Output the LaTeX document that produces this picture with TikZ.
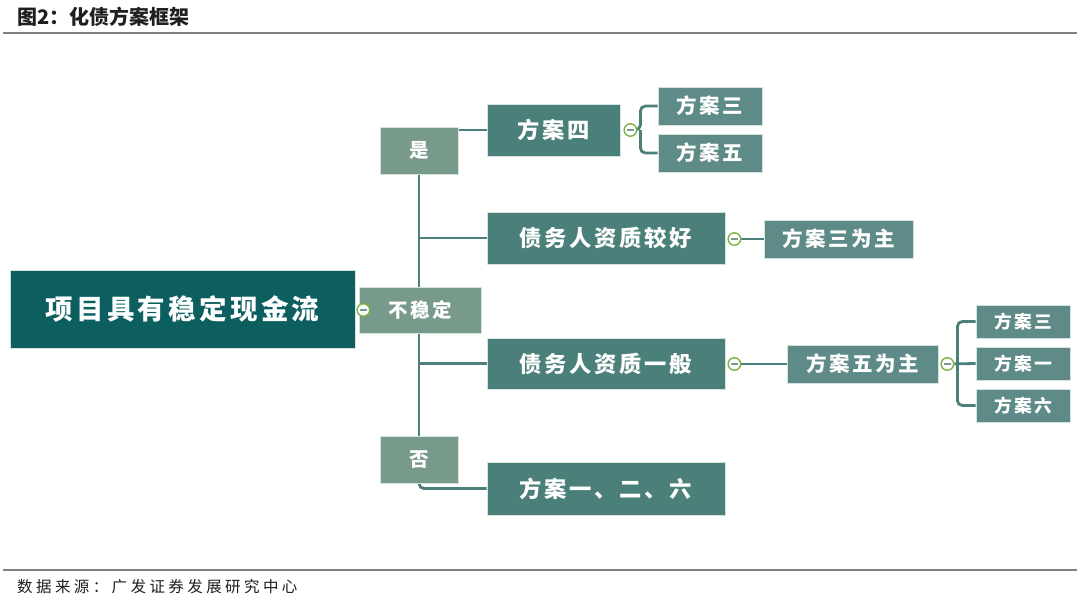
\documentclass[tikz,border=0pt]{standalone}
\usepackage{fontspec}
\usetikzlibrary{backgrounds,calc}
\newfontfamily\cjk{Noto Sans CJK SC}
\newfontfamily\cjks{Noto Sans CJK SC}[LetterSpace=12]
\newfontfamily\cjkw{Noto Sans CJK SC}[LetterSpace=22]
\definecolor{cmain}{HTML}{0C5E5F}
\definecolor{cgray}{HTML}{779A8B}
\definecolor{cteal}{HTML}{4A8079}
\definecolor{csmall}{HTML}{5E8B88}
\definecolor{cline}{HTML}{4A8079}
\definecolor{cgreen}{HTML}{79B343}
\definecolor{cedge}{HTML}{D5E3DF}
\definecolor{crule}{HTML}{808080}
\definecolor{ctitle}{HTML}{1F1F1F}
\tikzset{
  box/.style={draw=cedge, line width=0.8pt, text=white, inner sep=0pt, align=center},
  mainbox/.style={box, fill=cmain, font=\cjks\bfseries\fontsize{27.5}{30}\selectfont},
  graybox/.style={box, fill=cgray, font=\cjks\bfseries\fontsize{19.5}{22}\selectfont},
  bigbox/.style={box, fill=cteal, font=\cjks\bfseries\fontsize{22.3}{24}\selectfont},
  midbox/.style={box, fill=csmall, font=\cjks\bfseries\fontsize{20.5}{22}\selectfont},
  smallbox/.style={box, fill=csmall, font=\cjks\bfseries\fontsize{17.8}{20}\selectfont},
  conn/.style={draw=cline, line width=2.8pt, rounded corners=5pt},
  toggle/.style={circle, draw=cgreen, fill=white, line width=1.4pt, inner sep=0pt, minimum size=12.5pt,
    path picture={\draw[cgray, line width=1.6pt] ([xshift=-3.6pt]path picture bounding box.center) -- ([xshift=3.6pt]path picture bounding box.center);}},
}
\begin{document}
\begin{tikzpicture}[x=1pt,y=-1pt]
\useasboundingbox (0,0) rectangle (1080,603);
% title and rules
\node[anchor=west, text=ctitle, font=\cjk\bfseries\fontsize{20}{22}\selectfont, inner sep=0pt] (title) at (17,17) {图2：化债方案框架};
\coordinate (r1a) at (3,33);
\coordinate (r1b) at (1077,33);
\draw[crule, line width=1.5pt] (r1a) -- (r1b);
\coordinate (r2a) at (3,570);
\coordinate (r2b) at (1077,570);
\draw[crule, line width=1.5pt] (r2a) -- (r2b);
\node[anchor=west, text=ctitle, font=\cjkw\fontsize{15.5}{18}\selectfont, inner sep=0pt] (src) at (17,587) {数据来源：广发证券发展研究中心};

% nodes
\node[mainbox, minimum width=345pt, minimum height=78pt] (main) at (182.5,309) {项目具有稳定现金流};
\node[graybox, minimum width=122pt, minimum height=46pt] (bw) at (420,310) {不稳定};
\node[graybox, minimum width=78pt, minimum height=47pt] (shi) at (419,150.5) {是};
\node[graybox, minimum width=78pt, minimum height=47pt] (fou) at (419,459.5) {否};
\node[bigbox, minimum width=133pt, minimum height=52pt] (f4) at (553.5,130) {方案四};
\node[midbox, minimum width=104pt, minimum height=38pt] (f3a) at (710,106) {方案三};
\node[midbox, minimum width=104pt, minimum height=38pt] (f5a) at (710,153) {方案五};
\node[bigbox, minimum width=238pt, minimum height=52pt] (good) at (606,238) {债务人资质较好};
\node[midbox, minimum width=149pt, minimum height=38pt] (f3main) at (838.5,239) {方案三为主};
\node[bigbox, minimum width=238pt, minimum height=51pt] (avg) at (606,363.5) {债务人资质一般};
\node[midbox, minimum width=151pt, minimum height=38pt] (f5main) at (862.5,364) {方案五为主};
\node[smallbox, minimum width=94pt, minimum height=33pt] (r3) at (1023,321.5) {方案三};
\node[smallbox, minimum width=94pt, minimum height=33pt] (r1) at (1023,363.5) {方案一};
\node[smallbox, minimum width=94pt, minimum height=33pt] (r6) at (1023,405.5) {方案六};
\node[bigbox, minimum width=238pt, minimum height=53pt] (f126) at (606,488.5) {方案一、二、六};

% toggles
\node[toggle] (c0) at ($(main.east)+(8,1)$) {};
\node[toggle] (c1) at ($(f4.east)+(10,0)$) {};
\node[toggle] (c2) at ($(good.east)+(9,1)$) {};
\node[toggle] (c3) at ($(avg.east)+(9,0.5)$) {};
\node[toggle] (c4) at ($(f5main.east)+(9,0)$) {};
\coordinate (j1) at ($(f4.east)+(20,0)$);
\coordinate (j2) at ($(f5main.east)+(19,0)$);

% connectors
\begin{scope}[on background layer]
\draw[conn] (shi.south) -- (fou.north);
\draw[conn] (shi.south |- good.west) -- (good.west);
\draw[conn] (shi.south |- avg.west) -- (avg.west);
\draw[conn] (shi.east |- f4.west) -- (f4.west);
\draw[conn] (fou.south) |- (f126.west);
\draw[conn] (c1) -- (j1) |- (f3a.west);
\draw[conn] (j1) |- (f5a.west);
\draw[conn] (c2) -- (f3main.west);
\draw[conn] (c3) -- (f5main.west);
\draw[conn] (c4) -- (r1.west);
\draw[conn] (j2) |- (r3.west);
\draw[conn] (j2) |- (r6.west);
\end{scope}
\end{tikzpicture}
\end{document}
